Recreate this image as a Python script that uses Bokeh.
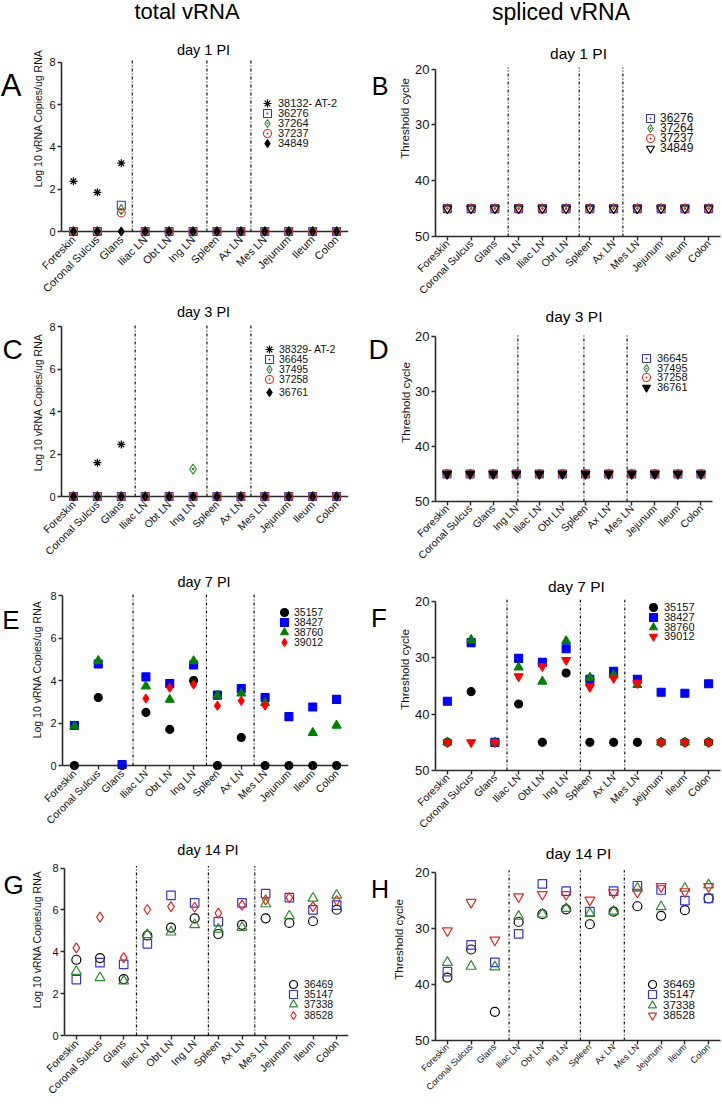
import math
import numpy as np
from bokeh.plotting import figure
from bokeh.layouts import column, row
from bokeh.models import Range1d, FixedTicker, Label, Legend, LegendItem, Span
from bokeh.embed import file_html
from bokeh.resources import INLINE

NAN = float("nan")
FONT = "Liberation Sans"

# ---------------- categories / ticks ----------------
tissues = ["Foreskin", "Coronal Sulcus", "Glans", "Iliac LN", "Obt LN", "Ing LN",
           "Spleen", "Ax LN", "Mes LN", "Jejunum", "Ileum", "Colon"]
tissues_bd = ["Foreskin", "Coronal Sulcus", "Glans", "Ing LN", "Iliac LN", "Obt LN",
              "Spleen", "Ax LN", "Mes LN", "Jejunum", "Ileum", "Colon"]
log_ticks = [0, 2, 4, 6, 8]
ct_ticks = [20, 30, 40, 50]

# tissue-group separators (in category index units)
sep_a = [2.46, 5.58, 7.42]
sep_b = [2.56, 5.55, 7.39]
sep_c = [2.58, 5.58, 7.42]
sep_d = [3.07, 5.93, 7.8]
sep_e = [2.46, 5.54, 7.54]
sep_f = [2.51, 5.6, 7.47]
sep_g = [2.54, 5.58, 7.54]
sep_h = [2.6, 5.6, 7.45]

# ---------------- A: day 1, total vRNA ----------------
a_names = ["38132- AT-2", "36276", "37264", "37237", "34849"]
a_38132 = [2.37, 1.85, 3.23, 0, 0, 0, 0, 0, 0, 0, 0, 0]
a_36276 = [0, 0, 1.24, 0, 0, 0, 0, 0, 0, 0, 0, 0]
a_37264 = [0, 0, 1.03, 0, 0, 0, 0, 0, 0, 0, 0, 0]
a_37237 = [0, 0, 0.88, 0, 0, 0, 0, 0, 0, 0, 0, 0]
a_34849 = [0, 0, 0, 0, 0, 0, 0, 0, 0, 0, 0, 0]

# ---------------- B: day 1, spliced vRNA ----------------
b_names = ["36276", "37264", "37237", "34849"]
b_36276 = [45, 45, 45, 45, 45, 45, 45, 45, 45, 45, 45, 45]
b_37264 = [45, 45, 45, 45, 45, 45, 45, 45, 45, 45, 45, 45]
b_37237 = [45, 45, 45, 45, 45, 45, 45, 45, 45, 45, 45, 45]
b_34849 = [45, 45, 45, 45, 45, 45, 45, 45, 45, 45, 45, 45]

# ---------------- C: day 3, total vRNA ----------------
c_names = ["38329- AT-2", "36645", "37495", "37258", "36761"]
c_38329 = [0, 1.59, 2.45, 0, 0, 0, 0, 0, 0, 0, 0, 0]
c_36645 = [0, 0, 0, 0, 0, 0, 0, 0, 0, 0, 0, 0]
c_37495 = [0, 0, 0, 0, 0, 1.29, 0, 0, 0, 0, 0, 0]
c_37258 = [0, 0, 0, 0, 0, 0, 0, 0, 0, 0, 0, 0]
c_36761 = [0, 0, 0, 0, 0, 0, 0, 0, 0, 0, 0, 0]

# ---------------- D: day 3, spliced vRNA ----------------
d_names = ["36645", "37495", "37258", "36761"]
d_36645 = [45, 45, 45, 45, 45, 45, 45, 45, 45, 45, 45, 45]
d_37495 = [45, 45, 45, 45, 45, 45, 45, 45, 45, 45, 45, 45]
d_37258 = [45, 45, 45, 45, 45, 45, 45, 45, 45, 45, 45, 45]
d_36761 = [45, 45, 45, 45, 45, 45, 45, 45, 45, 45, 45, 45]

# ---------------- E: day 7, total vRNA ----------------
e_names = ["35157", "38427", "38760", "39012"]
e_35157 = [0, 3.2, 0, 2.5, 1.7, 4.0, 0, 1.32, 0, 0, 0, 0]
e_38427 = [1.88, 4.78, 0.05, 4.17, 3.86, 4.73, 3.31, 3.62, 3.2, 2.3, 2.75, 3.11]
e_38760 = [1.85, 4.93, NAN, 3.73, 3.1, 4.92, 3.3, 3.39, 2.95, NAN, 1.54, 1.88]
e_39012 = [NAN, NAN, NAN, 3.15, 3.66, 3.81, 2.81, 3.05, 2.83, NAN, NAN, NAN]

# ---------------- F: day 7, spliced vRNA ----------------
f_names = ["35157", "38427", "38760", "39012"]
f_35157 = [45, 36.0, 45, 38.2, 45, 32.7, 45, 45, 45, 45, 45, 45]
f_38427 = [37.7, 27.3, 45, 30.1, 30.8, 28.4, 33.8, 32.4, 33.8, 36.1, 36.3, 34.6]
f_38760 = [45, 26.8, 45, 31.7, 34.2, 27.0, 33.5, 33.0, 34.8, 45, 45, 45]
f_39012 = [45, 45, 45, 33.3, 31.5, 30.4, 35.2, 33.6, 34.5, 45, 45, 45]

# ---------------- G: day 14, total vRNA ----------------
g_names = ["36469", "35147", "37338", "38528"]
g_36469 = [3.62, 3.70, 2.70, 4.78, 5.16, 5.60, 4.85, 5.29, 5.60, 5.38, 5.46, 6.01]
g_35147 = [2.67, 3.48, 3.40, 4.38, 6.70, 6.34, 5.44, 6.34, 6.78, 6.59, 6.00, 6.23]
g_37338 = [3.06, 2.76, 2.60, 4.82, 4.94, 5.29, 5.08, 5.16, 6.29, 5.71, 6.56, 6.70]
g_38528 = [4.19, 5.66, 3.72, 6.02, 6.16, 6.13, 5.85, 6.23, 6.48, 6.59, 6.16, 6.45]

# ---------------- H: day 14, spliced vRNA ----------------
h_names = ["36469", "35147", "37338", "38528"]
h_36469 = [38.8, 33.8, 44.9, 28.9, 27.5, 26.65, 29.3, 27.06, 26.1, 27.8, 26.8, 24.7]
h_35147 = [37.75, 32.96, 36.1, 31.0, 22.1, 23.4, 27.06, 23.4, 22.45, 23.2, 25.1, 24.7]
h_37338 = [36.1, 36.8, 36.9, 27.9, 27.5, 26.5, 27.4, 27.0, 22.9, 26.2, 22.9, 22.3]
h_38528 = [30.45, 25.4, 32.1, 24.4, 24.0, 24.0, 25.0, 23.7, 23.6, 22.6, 23.5, 22.6]

# ---------------- styles ----------------
BLK, BLU, GRN, RED = "#000000", "#0000ff", "#008000", "#ff0000"
OBLU, OGRN, ORED = "#3535d8", "#2e8b2e", "#e8261f"
AX = "#2b2b2b"


def st(marker, size, line, fill=None, lw=1.1):
    return dict(marker=marker, size=size, line_color=line, fill_color=fill, line_width=lw)


S_AST = st("asterisk", 8, BLK, lw=1.2)
S_SQD = st("square_dot", 8, OBLU)
S_DMD = st("diamond_dot", 10, OGRN)
S_CID = st("circle_dot", 8, ORED)
S_DIA_K = st("diamond", 9, BLK, BLK)
S_ITR_O = st("inverted_triangle", 9, BLK)
S_ITR_K = st("inverted_triangle", 9, BLK, BLK)
S_CIR_K = st("circle", 8, BLK, BLK)
S_SQ_B = st("square", 8, BLU, BLU)
S_TRI_G = st("triangle", 9, GRN, GRN)
S_DIA_R = st("diamond", 9, RED, RED)
S_ITR_R = st("inverted_triangle", 9, RED, RED)
S_CIR_O = st("circle", 9, BLK, lw=1.2)
S_SQ_O = st("square", 8.5, OBLU, lw=1.2)
S_TRI_O = st("triangle", 10, OGRN, lw=1.2)
S_DIA_O = st("diamond", 10, ORED, lw=1.2)
S_ITRR_O = st("inverted_triangle", 10, ORED, lw=1.2)

# ---------------- page geometry (rows) ----------------
# each row: top (px), height, shared frame bottom (px), vertical shift of the row's content
ROWS = [dict(top=0, h=303, fb=237, shift=0),
        dict(top=303, h=265, fb=501, shift=0),
        dict(top=568, h=270, fb=770, shift=0),
        dict(top=838, h=265, fb=1043, shift=-4)]


def no_grid(p):
    for g in p.grid:
        g.visible = False


def side_fig(w, rw, letter, lx, lref, lsize):
    s = figure(width=w, height=rw["h"], x_range=Range1d(0, 1), y_range=Range1d(0, 1),
               output_backend="svg", toolbar_location=None,
               x_axis_location=None, y_axis_location=None,
               min_border_left=0, min_border_right=0, min_border_top=0,
               min_border_bottom=rw["top"] + rw["h"] - rw["fb"])
    s.outline_line_color = None
    no_grid(s)
    s.add_layout(Label(x=lx, y=rw["fb"] - (lref + rw["shift"]), x_units="screen",
                       y_units="screen", text=letter, text_font=FONT, text_font_size=lsize,
                       text_color="#000000", text_align="center", text_baseline="middle"))
    return s


def make_panel(c, rw):
    sh = rw["shift"]
    top, fb = rw["top"], rw["fb"]
    pt, pb = c["plot_top"] + sh, c["plot_bot"] + sh
    tv, bv = c["vals"]
    pad = fb - pb

    def val(y):
        return tv + (y - pt) * (bv - tv) / (pb - pt)

    p = figure(width=c["w"], height=rw["h"],
               x_range=Range1d(-0.5, 11.5), y_range=Range1d(val(fb), val(top)),
               output_backend="svg", toolbar_location=None,
               min_border_left=c["L"], min_border_right=c["R"],
               min_border_top=0, min_border_bottom=top + rw["h"] - fb)
    p.outline_line_color = None
    no_grid(p)
    xa = p.xaxis[0]
    ya = p.yaxis[0]
    xa.ticker = FixedTicker(ticks=list(range(len(c["cats"]))))
    xa.major_label_overrides = {i: t for i, t in enumerate(c["cats"])}
    xa.major_label_orientation = math.pi / 4
    xa.major_label_text_font_size = c["cat_size"]
    ya.ticker = FixedTicker(ticks=c["ticks"])
    ya.bounds = (min(tv, bv), max(tv, bv))
    ya.major_label_text_font_size = c["tick_size"]
    ya.major_label_standoff = 2
    ya.axis_label = c["ylab"]
    ya.axis_label_text_font = FONT
    ya.axis_label_text_font_style = "normal"
    ya.axis_label_text_font_size = c["ylab_size"]
    ya.axis_label_text_color = "#111111"
    ya.axis_label_standoff = c["ylab_so"]
    for ax in (xa, ya):
        ax.axis_line_color = AX
        ax.axis_line_width = 1.6
        ax.major_tick_line_color = AX
        ax.major_tick_line_width = 1.4
        ax.major_tick_in = 0
        ax.major_tick_out = 4
        ax.minor_tick_line_color = None
        ax.major_label_text_font = FONT
        ax.major_label_text_color = "#111111"
    xa.major_label_standoff = 1
    if pad > 0:
        # category axis line sits above the frame edge so markers at the baseline are whole
        xa.axis_line_color = None
        xa.major_tick_in = pad
        xa.major_tick_out = 4 - pad
        p.add_layout(Span(location=bv, dimension="width", line_color=AX, line_width=1.6,
                          level="underlay"))

    lo, hi = c["sep_span"]
    seps = c["seps"]
    p.segment(x0=seps, y0=[lo] * len(seps), x1=seps, y1=[hi] * len(seps),
              line_color="#111111", line_width=1.2, line_dash="3 2 1 2")

    fl = c["frame_left"]
    mx, centers = c["leg"]
    for (name, vals, style), yc in zip(c["series"], centers):
        xs = np.arange(len(vals), dtype=float)
        r = p.scatter(x=xs, y=np.array(vals, dtype=float), **style)
        leg = Legend(items=[LegendItem(label=name, renderers=[r])],
                     location=(mx - 10 - fl, fb - (yc + sh) - 10),
                     glyph_width=20, glyph_height=20, label_height=20,
                     spacing=0, padding=0, margin=0,
                     label_standoff=c["leg_so"], label_text_font=FONT,
                     label_text_font_size=c["leg_size"], label_text_color="#111111",
                     background_fill_alpha=0, border_line_color=None)
        p.add_layout(leg)

    for text, xr, yr, size in c["texts"]:
        p.add_layout(Label(x=xr - fl, y=fb - (yr + sh), x_units="screen", y_units="screen",
                           text=text, text_font=FONT, text_font_size=size,
                           text_color="#000000", text_align="center",
                           text_baseline="middle"))
    return p


LOGLAB = "Log 10 vRNA Copies/ug RNA"
CTLAB = "Threshold cycle"

base_left = dict(w=333, L=33, R=13, frame_left=61, cats=tissues, ticks=log_ticks,
                 vals=(8, 0), tick_size="11px", cat_size="10.5px", sep_span=(0, 8.1),
                 ylab=LOGLAB, ylab_size="10.5px")
base_right = dict(w=331, L=45, R=1, frame_left=435, ticks=ct_ticks, vals=(20, 50),
                  tick_size="13px", cat_size="10.5px", sep_span=(50, 19.7),
                  ylab=CTLAB, ylab_size="11.5px")

r1, r2, r3, r4 = ROWS

pA = make_panel(dict(base_left, plot_top=62, plot_bot=232, seps=sep_a, cat_size="11px",
                     ylab_so=2,
                     series=[(a_names[0], a_38132, S_AST), (a_names[1], a_36276, S_SQD),
                             (a_names[2], a_37264, S_DMD), (a_names[3], a_37237, S_CID),
                             (a_names[4], a_34849, S_DIA_K)],
                     leg=(267, [104, 114, 124, 134, 144]), leg_so=1, leg_size="11px",
                     texts=[("total vRNA", 186.5, 12, "22px"),
                            ("day 1  PI", 205, 50, "14.5px")]), r1)
sA = side_fig(28, r1, "A", 10.5, 86, "31px")

pB = make_panel(dict(base_right, plot_top=69, plot_bot=237, cats=tissues_bd, seps=sep_b,
                     ylab_so=1,
                     series=[(b_names[0], b_36276, S_SQD), (b_names[1], b_37264, S_DMD),
                             (b_names[2], b_37237, S_CID), (b_names[3], b_34849, S_ITR_O)],
                     leg=(650, [119, 129, 139, 149]), leg_so=0, leg_size="12px",
                     texts=[("spliced vRNA", 560.5, 12, "23px"),
                            ("day 1 PI", 578, 54, "15.5px")]), r1)
sB = side_fig(29, r1, "B", 18.5, 86, "25px")

pC = make_panel(dict(base_left, plot_top=326, plot_bot=496, seps=sep_c, ylab_so=2,
                     series=[(c_names[0], c_38329, S_AST), (c_names[1], c_36645, S_SQD),
                             (c_names[2], c_37495, S_DMD), (c_names[3], c_37258, S_CID),
                             (c_names[4], c_36761, S_DIA_K)],
                     leg=(269, [349, 359, 369, 379, 392]), leg_so=0, leg_size="10.5px",
                     texts=[("day 3  PI", 205, 311, "14.5px")]), r2)
sC = side_fig(28, r2, "C", 12, 349, "28px")

pD = make_panel(dict(base_right, R=9, plot_top=336, plot_bot=501, cats=tissues_bd, seps=sep_d,
                     ylab_so=0,
                     series=[(d_names[0], d_36645, S_SQD), (d_names[1], d_37495, S_DMD),
                             (d_names[2], d_37258, S_CID), (d_names[3], d_36761, S_ITR_K)],
                     leg=(646, [358, 368, 377, 387]), leg_so=1, leg_size="11px",
                     texts=[("day 3 PI", 573.5, 316, "15.5px")]), r2)
sD = side_fig(29, r2, "D", 17, 349, "28px")

pE = make_panel(dict(base_left, plot_top=595, plot_bot=765, seps=sep_e, ylab_so=4,
                     series=[(e_names[0], e_35157, S_CIR_K), (e_names[1], e_38427, S_SQ_B),
                             (e_names[2], e_38760, S_TRI_G), (e_names[3], e_39012, S_DIA_R)],
                     leg=(283, [612, 622, 632, 642]), leg_so=0, leg_size="10.5px",
                     texts=[("day 7  PI", 204.5, 581, "14.5px")]), r3)
sE = side_fig(28, r3, "E", 10.5, 619, "26px")

pF = make_panel(dict(base_right, plot_top=601, plot_bot=770, cats=tissues, seps=sep_f,
                     ylab_so=1,
                     series=[(f_names[0], f_35157, S_CIR_K), (f_names[1], f_38427, S_SQ_B),
                             (f_names[2], f_38760, S_TRI_G), (f_names[3], f_39012, S_ITR_R)],
                     leg=(653, [607, 617, 627, 636]), leg_so=1, leg_size="11px",
                     texts=[("day  7 PI", 578, 586, "15.5px")]), r3)
sF = side_fig(29, r3, "F", 17.5, 617, "26px")

pG = make_panel(dict(base_left, plot_top=872, plot_bot=1042, seps=sep_g, ylab_so=6,
                     series=[(g_names[0], g_36469, S_CIR_O), (g_names[1], g_35147, S_SQ_O),
                             (g_names[2], g_37338, S_TRI_O), (g_names[3], g_38528, S_DIA_O)],
                     leg=(290, [991, 1001, 1011, 1022]), leg_so=1, leg_size="10.5px",
                     texts=[("day 14 PI", 204.5, 856, "14.5px")]), r4)
sG = side_fig(28, r4, "G", 13, 891, "26px")

pH = make_panel(dict(base_right, plot_top=876, plot_bot=1047, cats=tissues, seps=sep_h,
                     cat_size="9px", ylab_so=7,
                     series=[(h_names[0], h_36469, S_CIR_O), (h_names[1], h_35147, S_SQ_O),
                             (h_names[2], h_37338, S_TRI_O), (h_names[3], h_38528, S_ITRR_O)],
                     leg=(652, [991, 1001, 1012, 1022]), leg_so=1, leg_size="11.5px",
                     texts=[("day 14 PI", 578, 860, "15.5px")]), r4)
sH = side_fig(29, r4, "H", 18.5, 895, "25px")

layout = column(row(sA, pA, sB, pB), row(sC, pC, sD, pD),
                row(sE, pE, sF, pF), row(sG, pG, sH, pH))
open("out.html", "w").write(file_html(layout, INLINE, "total and spliced vRNA"))
